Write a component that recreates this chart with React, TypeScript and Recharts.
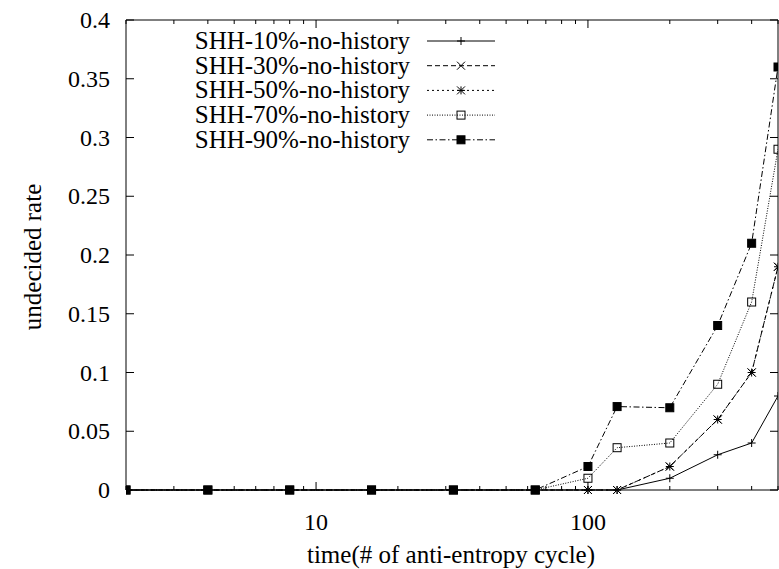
import React from "react";
import { LineChart, Line, XAxis, YAxis, ReferenceArea, Legend } from "recharts";

// time (anti-entropy cycles), log scale
const cycles = [2, 4, 8, 16, 32, 64, 100, 128, 200, 300, 400, 500];

// undecided rate per series
const shh10 = [0, 0, 0, 0, 0, 0, 0, 0, 0.01, 0.03, 0.04, 0.08];
const shh30 = [0, 0, 0, 0, 0, 0, 0, 0, 0.02, 0.06, 0.1, 0.19];
const shh50 = [0, 0, 0, 0, 0, 0, 0, 0, 0.02, 0.06, 0.1, 0.19];
const shh70 = [0, 0, 0, 0, 0, 0, 0.01, 0.036, 0.04, 0.09, 0.16, 0.29];
const shh90 = [0, 0, 0, 0, 0, 0, 0.02, 0.071, 0.07, 0.14, 0.21, 0.36];

const seriesNames = [
  "SHH-10%-no-history",
  "SHH-30%-no-history",
  "SHH-50%-no-history",
  "SHH-70%-no-history",
  "SHH-90%-no-history",
];

const xTicks = [2, 3, 4, 5, 6, 7, 8, 9, 10, 20, 30, 40, 50, 60, 70, 80, 90, 100, 200, 300, 400, 500];
const xMajor = [10, 100];
const yTicks = [0, 0.05, 0.1, 0.15, 0.2, 0.25, 0.3, 0.35, 0.4];
const yTickLabels = ["0", "0.05", "0.1", "0.15", "0.2", "0.25", "0.3", "0.35", "0.4"];

const W = 779;
const H = 569;
const TOP = 20;
const RIGHT_M = 1;
const Y_W = 126;
const X_H = 79;
const PLOT_RIGHT = W - RIGHT_M;
const FONT = "Liberation Serif, Times New Roman, serif";
const tickTxt = { fontFamily: FONT, fontSize: 24 };
const bigTxt = { fontFamily: FONT, fontSize: 25 };

const data = cycles.map((c, i) => ({
  cycle: c,
  s10: shh10[i],
  s30: shh30[i],
  s50: shh50[i],
  s70: shh70[i],
  s90: shh90[i],
}));

type Marker = "plus" | "cross" | "star" | "box" | "fbox";

const series: { key: string; dash?: string; marker: Marker }[] = [
  { key: "s10", marker: "plus" },
  { key: "s30", dash: "5 3", marker: "cross" },
  { key: "s50", dash: "2 3", marker: "star" },
  { key: "s70", dash: "1 1.5", marker: "box" },
  { key: "s90", dash: "6 2.5 1.5 2.5", marker: "fbox" },
];

function markerShape(kind: Marker, cx: number, cy: number, k?: string) {
  const r = 4;
  if (kind === "plus")
    return (
      <path key={k} d={`M${cx - r},${cy}H${cx + r}M${cx},${cy - r}V${cy + r}`} stroke="#000" strokeWidth={1} />
    );
  if (kind === "cross")
    return (
      <path
        key={k}
        d={`M${cx - r},${cy - r}L${cx + r},${cy + r}M${cx - r},${cy + r}L${cx + r},${cy - r}`}
        stroke="#000"
        strokeWidth={1}
      />
    );
  if (kind === "star")
    return (
      <path
        key={k}
        d={`M${cx - r},${cy}H${cx + r}M${cx},${cy - r}V${cy + r}M${cx - r},${cy - r}L${cx + r},${cy + r}M${cx - r},${cy + r}L${cx + r},${cy - r}`}
        stroke="#000"
        strokeWidth={1}
      />
    );
  if (kind === "box")
    return <rect key={k} x={cx - r} y={cy - r} width={2 * r} height={2 * r} fill="none" stroke="#000" strokeWidth={1} />;
  return <rect key={k} x={cx - r} y={cy - r} width={2 * r} height={2 * r} fill="#000" stroke="#000" />;
}

function XTick(props: any) {
  const { x, y, payload } = props;
  const major = xMajor.includes(payload.value);
  const len = major ? 8 : 4;
  return (
    <g>
      <line x1={x} y1={y} x2={x} y2={y - len} stroke="#000" />
      <line x1={x} y1={TOP} x2={x} y2={TOP + len} stroke="#000" />
      {major && (
        <text x={x} y={y + 40} textAnchor="middle" style={tickTxt} fill="#000">
          {payload.value}
        </text>
      )}
    </g>
  );
}

function YTick(props: any) {
  const { x, y, payload } = props;
  const i = yTicks.indexOf(payload.value);
  return (
    <g>
      <line x1={x} y1={y} x2={x + 8} y2={y} stroke="#000" />
      <line x1={PLOT_RIGHT} y1={y} x2={PLOT_RIGHT - 8} y2={y} stroke="#000" />
      <text x={x - 16} y={y + 8} textAnchor="end" style={tickTxt} fill="#000">
        {i >= 0 ? yTickLabels[i] : payload.value}
      </text>
    </g>
  );
}

function KeyBox() {
  return (
    <svg width={W} height={160} style={{ display: "block" }}>
      {series.map((s, i) => {
        const y = 41 + i * 24.7;
        return (
          <g key={s.key}>
            <text x={410} y={y + 8} textAnchor="end" style={bigTxt} fill="#000">
              {seriesNames[i]}
            </text>
            <line x1={427} y1={y} x2={495} y2={y} stroke="#000" strokeWidth={1} strokeDasharray={s.dash} />
            {markerShape(s.marker, 461, y)}
          </g>
        );
      })}
    </svg>
  );
}

export default function App() {
  return (
    <div style={{ position: "absolute", left: 0, top: 0, width: W, height: H, background: "#fff", fontFamily: FONT }}>
      <LineChart
        width={W}
        height={H}
        data={data}
        margin={{ top: TOP, right: RIGHT_M, left: 0, bottom: 0 }}
      >
        <XAxis
          dataKey="cycle"
          type="number"
          scale="log"
          domain={[2, 500]}
          ticks={xTicks}
          interval={0}
          allowDataOverflow
          height={X_H}
          axisLine={false}
          tickLine={false}
          tickSize={0}
          tickMargin={0}
          tick={<XTick />}
          label={{
            content: () => (
              <text x={451} y={563} textAnchor="middle" style={bigTxt} fill="#000">
                time(# of anti-entropy cycle)
              </text>
            ),
          }}
        />
        <YAxis
          type="number"
          domain={[0, 0.4]}
          ticks={yTicks}
          interval={0}
          width={Y_W}
          axisLine={false}
          tickLine={false}
          tickSize={0}
          tickMargin={0}
          tick={<YTick />}
          label={{
            content: () => (
              <text x={41} y={257} transform="rotate(-90 41 257)" textAnchor="middle" style={bigTxt} fill="#000">
                undecided rate
              </text>
            ),
          }}
        />
        <ReferenceArea x1={2} x2={500} y1={0} y2={0.4} fill="none" fillOpacity={0} stroke="#000" strokeWidth={1} />
        <Legend
          layout="vertical"
          align="center"
          verticalAlign="middle"
          content={() => <KeyBox />}
          wrapperStyle={{ position: "absolute", left: 0, top: 0, width: W, height: 160 }}
        />
        {series.map((s, i) => (
          <Line
            key={s.key}
            dataKey={s.key}
            name={seriesNames[i]}
            type="linear"
            stroke="#000"
            strokeWidth={1}
            strokeDasharray={s.dash}
            isAnimationActive={false}
            dot={(p: any) => markerShape(s.marker, p.cx, p.cy, `${s.key}-${p.index}`)}
            activeDot={false}
          />
        ))}
      </LineChart>
    </div>
  );
}
